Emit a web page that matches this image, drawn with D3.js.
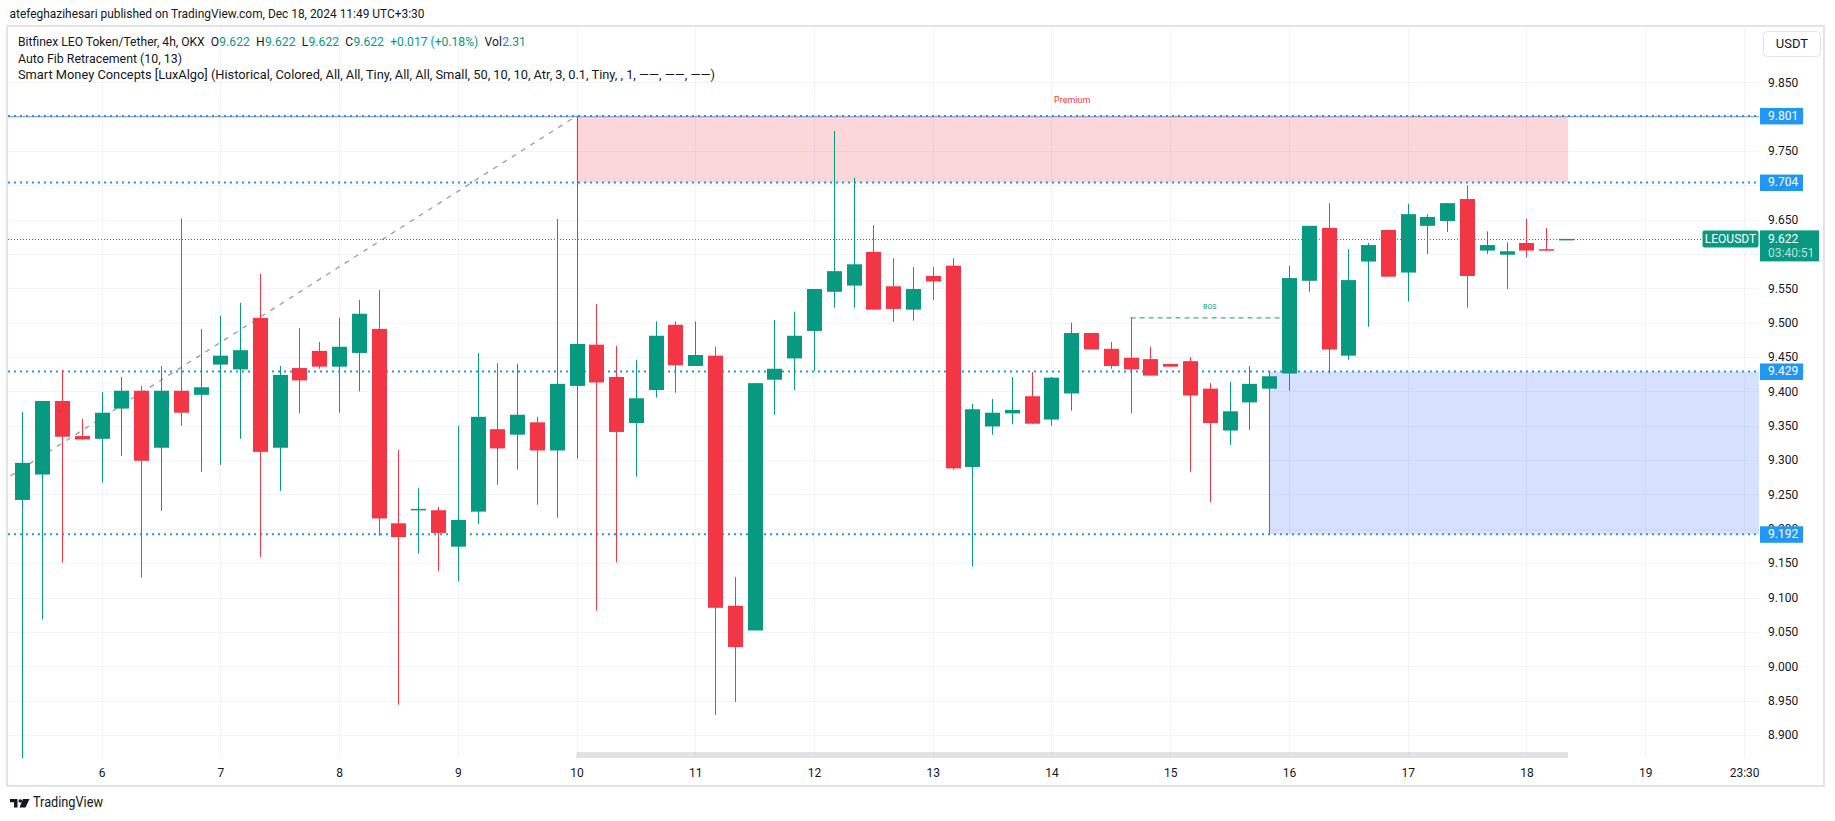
<!DOCTYPE html>
<html><head><meta charset="utf-8">
<script src="https://cdn.jsdelivr.net/npm/d3@7/dist/d3.min.js"></script>
<style>
html,body{margin:0;padding:0;background:#fff;}
svg{display:block;font-family:Roboto,"Liberation Sans",sans-serif;}
</style>
</head><body>
<svg id="c" width="1835" height="821"></svg>
<script>
// ---------- DATA ----------
const openP  = [9.242,9.279,9.386,9.335,9.331,9.375,9.401,9.318,9.401,9.395,9.439,9.432,9.507,9.318,9.434,9.459,9.436,9.456,9.491,9.208,
                9.227,9.227,9.174,9.225,9.345,9.337,9.355,9.314,9.408,9.468,9.421,9.354,9.402,9.497,9.437,9.452,9.088,9.052,9.417,9.448,
                9.488,9.545,9.554,9.603,9.553,9.519,9.568,9.583,9.290,9.349,9.368,9.393,9.359,9.397,9.485,9.462,9.449,9.447,9.440,9.444,
                9.404,9.343,9.384,9.404,9.426,9.561,9.638,9.452,9.589,9.635,9.573,9.641,9.648,9.680,9.605,9.599,9.616,9.607,9.622];
const highP  = [9.370,9.386,9.431,9.360,9.399,9.421,9.408,9.437,9.652,9.491,9.510,9.529,9.571,9.437,9.492,9.472,9.507,9.533,9.548,9.315,
                9.259,9.232,9.350,9.456,9.441,9.440,9.363,9.651,9.801,9.527,9.466,9.446,9.502,9.502,9.502,9.465,9.130,9.412,9.504,9.516,
                9.549,9.779,9.711,9.642,9.594,9.581,9.581,9.594,9.382,9.389,9.421,9.428,9.421,9.500,9.485,9.472,9.507,9.465,9.440,9.450,
                9.412,9.414,9.437,9.429,9.583,9.641,9.674,9.607,9.616,9.635,9.673,9.658,9.674,9.700,9.633,9.617,9.651,9.638,9.622];
const lowP   = [8.866,9.068,9.151,9.330,9.267,9.306,9.129,9.226,9.350,9.283,9.293,9.331,9.159,9.255,9.368,9.433,9.369,9.400,9.190,8.944,
                9.164,9.138,9.124,9.207,9.264,9.286,9.235,9.216,9.302,9.081,9.151,9.276,9.391,9.398,9.437,8.929,8.948,9.052,9.366,9.402,
                9.430,9.522,9.522,9.519,9.501,9.503,9.533,9.286,9.145,9.337,9.352,9.353,9.350,9.372,9.461,9.433,9.368,9.423,9.436,9.283,
                9.239,9.322,9.344,9.192,9.401,9.545,9.426,9.446,9.494,9.567,9.531,9.600,9.632,9.522,9.600,9.549,9.595,9.605,9.622];
const closeP = [9.296,9.386,9.334,9.330,9.369,9.401,9.299,9.401,9.369,9.406,9.452,9.460,9.312,9.424,9.416,9.436,9.465,9.513,9.215,9.188,
                9.229,9.194,9.213,9.363,9.317,9.366,9.314,9.411,9.469,9.413,9.341,9.390,9.481,9.438,9.453,9.085,9.028,9.412,9.433,9.481,
                9.549,9.575,9.585,9.519,9.520,9.549,9.560,9.288,9.374,9.369,9.373,9.353,9.420,9.485,9.461,9.437,9.432,9.423,9.436,9.394,
                9.354,9.371,9.411,9.422,9.565,9.641,9.461,9.562,9.613,9.567,9.658,9.654,9.674,9.568,9.613,9.604,9.605,9.605,9.622];

const timeTickIndex  = [4,10,16,22,28,34,40,46,52,58,64,70,76,82,87];
const timeTickLabels = ["6","7","8","9","10","11","12","13","14","15","16","17","18","19","23:30"];
const gridPrices = [9.85,9.80,9.75,9.70,9.65,9.60,9.55,9.50,9.45,9.40,9.35,9.30,9.25,9.20,9.15,9.10,9.05,9.00,8.95,8.90];
const priceTickLabels = ["9.850","9.750","9.650","9.550","9.500","9.450","9.400","9.350","9.300",
                         "9.250","9.200","9.150","9.100","9.050","9.000","8.950","8.900"];
const levelLines   = [9.801, 9.704, 9.429, 9.192];
const lastPrice    = 9.622;
const premiumZone  = [28, 78.1, 9.801, 9.704];     // startIdx, endIdx, top, bottom
const equilZone    = [28, 78.1, 8.875, 8.78];
const obZone       = [63, 9.429, 9.192];           // startIdx, top, bottom (extends right)
const bosLine      = [56, 64, 9.507];              // fromIdx, toIdx, price
const fibPoints    = [[-0.6, 9.277], [28, 9.801]];

// ---------- LAYOUT ----------
const L = 8, R = 1759, T = 27, B = 758;
const GREEN = "#089981", RED = "#F23645", BLUE = "#2196F3", TXT = "#131722";
const FONT = "Roboto,'Liberation Sans',sans-serif";
const svg = d3.select("#c");
const x = d3.scaleLinear().domain([0, 87]).range([22.4, 1744.1]);
const y = d3.scaleLinear().domain([8.9, 9.85]).range([734.9, 82.25]);

svg.append("defs").append("clipPath").attr("id","plot")
  .append("rect").attr("x",L).attr("y",T).attr("width",R-L).attr("height",B-T);

// header
svg.append("text").attr("x",9.5).attr("y",15).attr("dominant-baseline","middle")
  .attr("font-size",13).attr("fill",TXT).attr("textLength",415).attr("lengthAdjust","spacingAndGlyphs")
  .text("atefeghazihesari published on TradingView.com, Dec 18, 2024 11:49 UTC+3:30");

// frame
svg.append("rect").attr("x",L-1).attr("y",T-1).attr("width",1824-L+1).attr("height",786-T+1)
  .attr("fill","none").attr("stroke","#e0e3eb").attr("stroke-width",2);

const plot = svg.append("g").attr("clip-path","url(#plot)");

// grid
plot.selectAll("line.hg").data(gridPrices).join("line").attr("class","hg")
  .attr("x1",L).attr("x2",R).attr("y1",d=>Math.round(y(d))+0.5).attr("y2",d=>Math.round(y(d))+0.5)
  .attr("stroke","#f0f3fa").attr("stroke-width",1);
plot.selectAll("line.vg").data(timeTickIndex).join("line").attr("class","vg")
  .attr("y1",T).attr("y2",B).attr("x1",d=>Math.round(x(d))+0.5).attr("x2",d=>Math.round(x(d))+0.5)
  .attr("stroke","#f0f3fa").attr("stroke-width",1);

// zones
plot.append("rect").attr("x",x(premiumZone[0])).attr("width",x(premiumZone[1])-x(premiumZone[0]))
  .attr("y",y(premiumZone[2])).attr("height",y(premiumZone[3])-y(premiumZone[2]))
  .attr("fill","rgba(242,54,69,0.2)");
plot.append("rect").attr("x",x(equilZone[0])).attr("width",x(equilZone[1])-x(equilZone[0]))
  .attr("y",y(equilZone[2])).attr("height",y(equilZone[3])-y(equilZone[2]))
  .attr("fill","rgba(135,139,148,0.25)");
plot.append("rect").attr("x",x(obZone[0])).attr("width",R-x(obZone[0]))
  .attr("y",y(obZone[1])).attr("height",y(obZone[2])-y(obZone[1]))
  .attr("fill","rgba(41,98,255,0.19)");

// premium label
svg.append("text").attr("x",(x(premiumZone[0])+x(premiumZone[1]))/2).attr("y",y(premiumZone[2])-15)
  .attr("text-anchor","middle").attr("dominant-baseline","middle").attr("font-size",9).attr("fill",RED)
  .text("Premium");

// fib grey level line + dashed trend
plot.append("line").attr("x1",L).attr("x2",R).attr("y1",y(fibPoints[1][1])+0.8).attr("y2",y(fibPoints[1][1])+0.8)
  .attr("stroke","#8f9bb3").attr("stroke-width",1);
plot.append("line").attr("x1",x(fibPoints[0][0])).attr("y1",y(fibPoints[0][1]))
  .attr("x2",x(fibPoints[1][0])).attr("y2",y(fibPoints[1][1]))
  .attr("stroke","#9a9ca3").attr("stroke-width",1.3).attr("stroke-dasharray","5,6");

// level lines (blue dotted)
plot.selectAll("line.lv").data(levelLines).join("line").attr("class","lv")
  .attr("x1",L).attr("x2",R).attr("y1",d=>y(d)).attr("y2",d=>y(d))
  .attr("stroke",BLUE).attr("stroke-width",2).attr("stroke-dasharray","2,4");

// last price line
plot.append("line").attr("x1",L).attr("x2",R).attr("y1",Math.round(y(lastPrice))+0.5).attr("y2",Math.round(y(lastPrice))+0.5)
  .attr("stroke",GREEN).attr("stroke-width",1).attr("stroke-dasharray","1,2");

// candles
const bars = openP.map((o,i)=>({i,o,h:highP[i],l:lowP[i],c:closeP[i]}));
const cg = plot.append("g");
cg.selectAll("line.wick").data(bars).join("line").attr("class","wick")
  .attr("x1",d=>Math.round(x(d.i))+0.5).attr("x2",d=>Math.round(x(d.i))+0.5)
  .attr("y1",d=>y(d.h)).attr("y2",d=>y(d.l))
  .attr("stroke",d=>d.c>=d.o?GREEN:RED).attr("stroke-width",1);
cg.selectAll("rect.body").data(bars).join("rect").attr("class","body")
  .attr("x",d=>Math.round(x(d.i))-7).attr("width",15)
  .attr("y",d=>y(Math.max(d.o,d.c)))
  .attr("height",d=>Math.max(1.5,Math.abs(y(d.o)-y(d.c))))
  .attr("fill",d=>d.c>=d.o?GREEN:RED);

// BOS
plot.append("line").attr("x1",x(bosLine[0])).attr("x2",x(bosLine[1])).attr("y1",y(bosLine[2])).attr("y2",y(bosLine[2]))
  .attr("stroke",GREEN).attr("stroke-width",1).attr("stroke-dasharray","5,4");
plot.append("text").attr("x",(x(bosLine[0])+x(bosLine[1]))/2).attr("y",y(bosLine[2])-11)
  .attr("text-anchor","middle").attr("dominant-baseline","middle").attr("font-size",7).attr("fill",GREEN)
  .text("BOS");

// price axis
const yAxis = d3.axisRight(y).tickValues(priceTickLabels.map(Number)).tickFormat((d,i)=>priceTickLabels[i]).tickSize(0).tickPadding(9);
const ya = svg.append("g").attr("transform",`translate(${R},0)`).call(yAxis);
ya.select(".domain").remove();
ya.selectAll("text").attr("font-size",12).attr("fill",TXT).attr("font-family",FONT);

// time axis
const xAxis = d3.axisBottom(x).tickValues(timeTickIndex).tickFormat((d,i)=>timeTickLabels[i]).tickSize(0).tickPadding(10);
const xa = svg.append("g").attr("transform",`translate(0,${B})`).call(xAxis);
xa.select(".domain").remove();
xa.selectAll("text").attr("font-size",12).attr("fill",TXT).attr("font-family",FONT);

// level labels on axis
const lv = svg.append("g").selectAll("g").data(levelLines).join("g");
lv.append("rect").attr("x",R+1).attr("y",d=>y(d)-8).attr("width",43).attr("height",16.5).attr("fill",BLUE);
lv.append("text").attr("x",R+9).attr("y",d=>y(d)+0.5).attr("dominant-baseline","middle")
  .attr("font-size",12).attr("fill","#fff").text(d=>d.toFixed(3));

// last price label
const lpY = y(lastPrice);
svg.append("rect").attr("x",1702.5).attr("y",lpY-8.5).attr("width",56).attr("height",17).attr("rx",2).attr("fill",GREEN);
svg.append("text").attr("x",1730.5).attr("y",lpY+0.5).attr("text-anchor","middle").attr("dominant-baseline","middle")
  .attr("font-size",12).attr("fill","#fff").text("LEOUSDT");
svg.append("rect").attr("x",R+1).attr("y",lpY-8.5).attr("width",59).attr("height",31).attr("fill",GREEN);
svg.append("text").attr("x",R+9).attr("y",lpY+0.5).attr("dominant-baseline","middle")
  .attr("font-size",12).attr("fill","#fff").text(lastPrice.toFixed(3));
svg.append("text").attr("x",R+9).attr("y",lpY+14.5).attr("dominant-baseline","middle")
  .attr("font-size",12).attr("fill","rgba(255,255,255,0.72)").text("03:40:51");

// USDT button
svg.append("rect").attr("x",1763.5).attr("y",31.5).attr("width",57).attr("height",25).attr("rx",4)
  .attr("fill","#fff").attr("stroke","#e0e3eb");
svg.append("text").attr("x",1792).attr("y",44.5).attr("text-anchor","middle").attr("dominant-baseline","middle")
  .attr("font-size",13).attr("fill",TXT).text("USDT");

// legend line 1: separate pieces placed side by side; font size chosen so the row fits the reference width
const segs = [["Bitfinex LEO Token/Tether, 4h, OKX\u00a0\u00a0O",TXT],["9.622",GREEN],["\u00a0\u00a0H",TXT],["9.622",GREEN],
              ["\u00a0\u00a0L",TXT],["9.622",GREEN],["\u00a0\u00a0C",TXT],["9.622",GREEN],["\u00a0\u00a0+0.017 (+0.18%)",GREEN],
              ["\u00a0\u00a0Vol",TXT],["2.31",GREEN]];
const legG = svg.append("g");
const pieces = legG.selectAll("text").data(segs).join("text").attr("y",43).attr("dominant-baseline","middle")
  .attr("font-size",13).attr("fill",d=>d[1]).text(d=>d[0]);
const w13 = d3.sum(pieces.nodes(), n=>n.getComputedTextLength());
const fs = 13 * 505 / w13;
pieces.attr("font-size",fs);
let cx = 18;
pieces.each(function(){
  d3.select(this).attr("x",cx);
  cx += this.getComputedTextLength() + 0.3;
});
svg.append("text").attr("x",18).attr("y",59.5).attr("dominant-baseline","middle").attr("font-size",13).attr("fill",TXT)
  .attr("textLength",164).attr("lengthAdjust","spacingAndGlyphs").text("Auto Fib Retracement (10, 13)");
svg.append("text").attr("x",18).attr("y",76).attr("dominant-baseline","middle").attr("font-size",13).attr("fill",TXT)
  .attr("textLength",697).attr("lengthAdjust","spacingAndGlyphs")
  .text("Smart Money Concepts [LuxAlgo] (Historical, Colored, All, All, Tiny, All, All, Small, 50, 10, 10, Atr, 3, 0.1, Tiny, , 1, ——, ——, ——)");

// TradingView logo
const logo = svg.append("g").attr("fill",TXT);
logo.append("path").attr("d","M10,799 H17.5 V807.5 H14 V802.3 H10 Z");
logo.append("circle").attr("cx",20.3).attr("cy",801).attr("r",1.8);
logo.append("path").attr("d","M23,799 H29.5 L25.5,807.5 H19.5 Z");
svg.append("text").attr("x",33).attr("y",803.5).attr("dominant-baseline","middle").attr("font-size",14.5).attr("fill",TXT)
  .attr("textLength",70).attr("lengthAdjust","spacingAndGlyphs").text("TradingView");
</script>
</body></html>
